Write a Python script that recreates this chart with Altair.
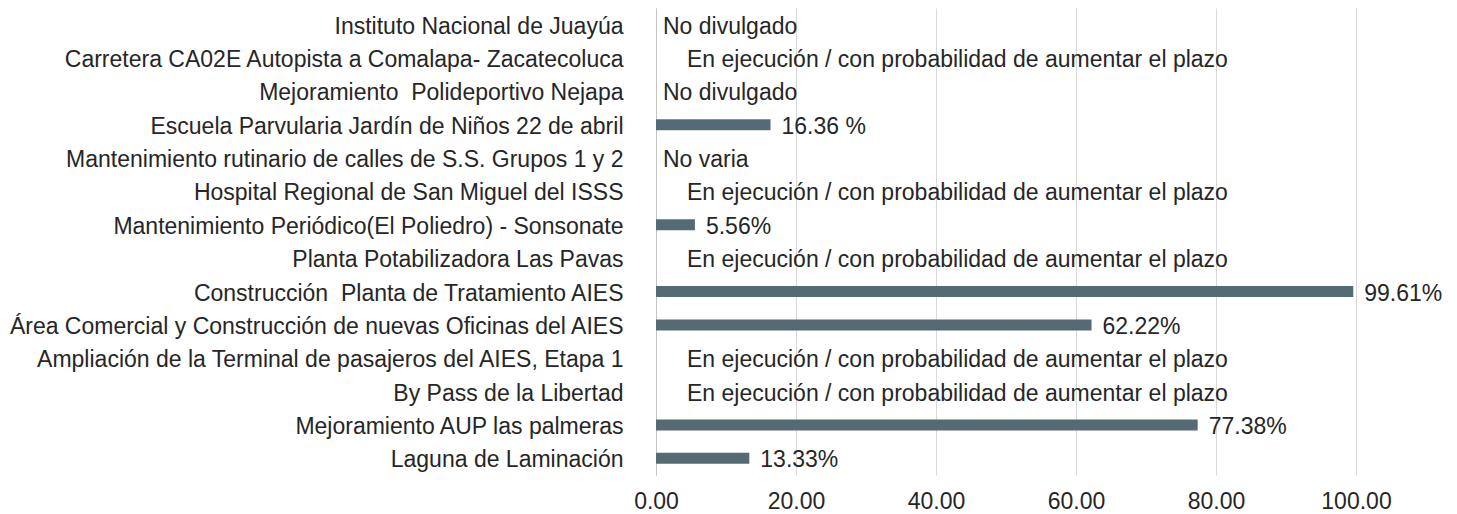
import altair as alt
import pandas as pd

categories = [
    "Instituto Nacional de Juayúa",
    "Carretera CA02E Autopista a Comalapa- Zacatecoluca",
    "Mejoramiento  Polideportivo Nejapa",
    "Escuela Parvularia Jardín de Niños 22 de abril",
    "Mantenimiento rutinario de calles de S.S. Grupos 1 y 2",
    "Hospital Regional de San Miguel del ISSS",
    "Mantenimiento Periódico(El Poliedro) - Sonsonate",
    "Planta Potabilizadora Las Pavas",
    "Construcción  Planta de Tratamiento AIES",
    "Área Comercial y Construcción de nuevas Oficinas del AIES",
    "Ampliación de la Terminal de pasajeros del AIES, Etapa 1",
    "By Pass de la Libertad ",
    "Mejoramiento AUP las palmeras",
    "Laguna de Laminación",
]

values = [None, None, None, 16.36, None, None, 5.56, None, 99.61, 62.22, None, None, 77.38, 13.33]

EJEC = "En ejecución / con probabilidad de aumentar el plazo"
labels = [
    "No divulgado", EJEC, "No divulgado", "16.36 %", "No varia", EJEC, "5.56%",
    EJEC, "99.61%", "62.22%", EJEC, EJEC, "77.38%", "13.33%",
]

x_ticks = [0, 20, 40, 60, 80, 100]

df = pd.DataFrame({"category": categories, "value": values, "label": labels})
df["is_long"] = df["label"] == EJEC

FONT = "Liberation Sans"
FS = 23
TXT = "#262626"
BAR = "#546b75"

label_expr = (
    "replace(replace(datum.label, regexp('  ', 'g'), '\u00a0 '), regexp(' $'), '\u00a0')"
)

y_enc = alt.Y(
    "category:N",
    sort=categories,
    title=None,
    axis=alt.Axis(
        labelFontSize=FS, labelFont=FONT, labelColor=TXT, labelPadding=33,
        labelOffset=2,
        ticks=False, domain=True, domainColor="#c4c4c4", grid=False,
        labelLimit=700, minExtent=646, maxExtent=646, labelExpr=label_expr,
    ),
    scale=alt.Scale(paddingInner=0, paddingOuter=0),
)

x_scale = alt.Scale(domain=[0, 100], nice=False)
x_axis = alt.Axis(
    values=x_ticks, format=".2f", labelFontSize=FS, labelFont=FONT,
    labelColor=TXT, ticks=False, domain=False, grid=True, gridColor="#d9d9d9",
    labelPadding=15, labelFlush=False, title=None,
)

base = alt.Chart(df)

bars = base.transform_filter("isValid(datum.value)").mark_bar(
    color=BAR, height=11
).encode(
    x=alt.X("value:Q", scale=x_scale, axis=x_axis),
    y=y_enc,
)

text_style = dict(align="left", baseline="middle", dy=2, font=FONT, fontSize=FS, color=TXT)

bar_labels = base.transform_filter("isValid(datum.value)").mark_text(
    dx=11, **text_style
).encode(x=alt.X("value:Q", scale=x_scale), y=alt.Y("category:N", sort=categories), text="label:N")

short_status = base.transform_filter("!isValid(datum.value) && !datum.is_long").mark_text(
    dx=7, **text_style
).encode(x=alt.datum(0), y=alt.Y("category:N", sort=categories), text="label:N")

long_status = base.transform_filter("!isValid(datum.value) && datum.is_long").mark_text(
    dx=31, **text_style
).encode(x=alt.datum(0), y=alt.Y("category:N", sort=categories), text="label:N")

chart = alt.layer(bars, bar_labels, short_status, long_status).properties(
    width=700, height=467, padding=0
).configure(background="white").configure_view(stroke=None)

chart.save("out.html", embed_options={"renderer": "svg", "actions": False})
